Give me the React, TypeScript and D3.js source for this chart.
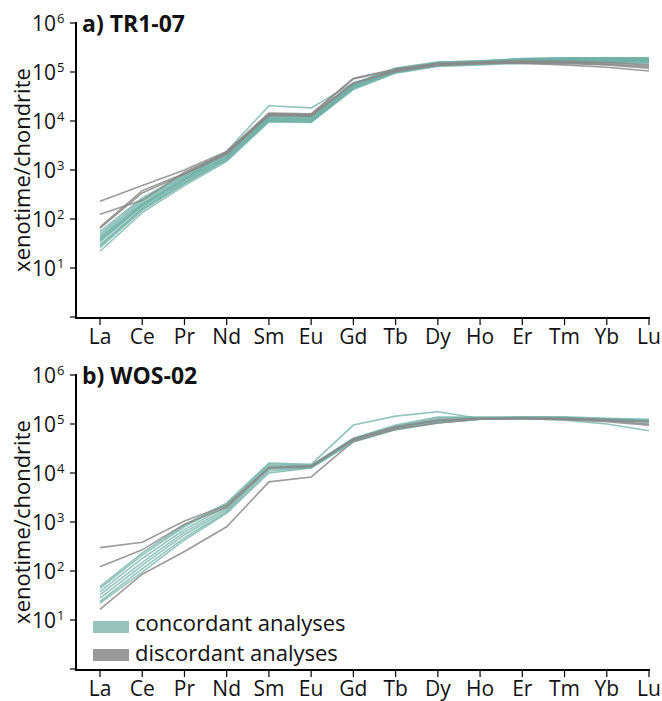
import React from 'react';
import * as d3 from 'd3';

const elements = ['La', 'Ce', 'Pr', 'Nd', 'Sm', 'Eu', 'Gd', 'Tb', 'Dy', 'Ho', 'Er', 'Tm', 'Yb', 'Lu'];
const yTickValues = [1, 10, 100, 1000, 10000, 100000, 1000000];
const yTickExponents = ['', '1', '2', '3', '4', '5', '6'];
const legendLabels = ['concordant analyses', 'discordant analyses'];

// a) TR1-07
const tr107Concordant = [
  [22, 135, 480, 1500, 9600, 9300, 44000, 95000, 130000, 140000, 150000, 155000, 160000, 165000],
  [26, 150, 520, 1600, 10000, 9800, 46000, 98000, 135000, 145000, 160000, 165000, 168000, 170000],
  [30, 165, 560, 1700, 10500, 10200, 48000, 100000, 140000, 150000, 165000, 170000, 172000, 175000],
  [34, 180, 600, 1800, 11000, 10800, 50000, 105000, 145000, 155000, 170000, 175000, 178000, 180000],
  [38, 195, 640, 1900, 11500, 11200, 52000, 108000, 148000, 160000, 175000, 180000, 182000, 185000],
  [42, 210, 680, 2000, 12000, 11800, 54000, 112000, 150000, 163000, 180000, 185000, 188000, 190000],
  [46, 230, 720, 2100, 12500, 12000, 55000, 115000, 155000, 165000, 183000, 190000, 192000, 195000],
  [50, 250, 760, 2200, 13000, 12500, 57000, 118000, 158000, 168000, 185000, 192000, 190000, 185000],
  [55, 270, 800, 2300, 13500, 13000, 58000, 120000, 160000, 170000, 188000, 195000, 195000, 190000],
  [40, 200, 650, 2400, 20500, 18500, 60000, 110000, 150000, 160000, 170000, 175000, 170000, 160000],
  [28, 160, 540, 1650, 10200, 9600, 47000, 100000, 138000, 148000, 158000, 160000, 155000, 150000],
  [36, 190, 620, 1850, 11200, 10500, 51000, 104000, 142000, 152000, 162000, 165000, 162000, 158000],
];
const tr107Discordant = [
  [230, 480, 1000, 2400, 14500, 14000, 75000, 115000, 150000, 160000, 170000, 165000, 155000, 140000],
  [125, 240, 900, 2300, 14000, 13500, 72000, 110000, 145000, 155000, 150000, 140000, 125000, 105000],
  [68, 380, 850, 2200, 13500, 13000, 60000, 105000, 140000, 150000, 160000, 155000, 145000, 130000],
  [65, 340, 820, 2100, 13000, 12500, 58000, 102000, 138000, 148000, 155000, 150000, 140000, 120000],
];

// b) WOS-02
const wos02Concordant = [
  [48, 234, 870, 2450, 16000, 15000, 95000, 145000, 178000, 130000, 130000, 120000, 100000, 73000],
  [44, 210, 800, 2300, 15000, 14500, 51000, 95000, 138000, 138000, 140000, 140000, 130000, 125000],
  [38, 180, 700, 2100, 14000, 14000, 50000, 90000, 130000, 135000, 138000, 135000, 128000, 120000],
  [33, 150, 620, 1900, 13000, 13500, 48000, 85000, 120000, 132000, 135000, 132000, 125000, 118000],
  [28, 130, 550, 1750, 12000, 13000, 47000, 82000, 112000, 128000, 132000, 130000, 122000, 115000],
  [24, 110, 480, 1600, 11000, 12800, 45000, 78000, 108000, 126000, 130000, 128000, 120000, 112000],
  [22, 95, 430, 1520, 10000, 12600, 43000, 76000, 105000, 126000, 128000, 125000, 118000, 110000],
];
const wos02Discordant = [
  [300, 385, 1050, 2200, 13000, 14000, 50000, 88000, 120000, 130000, 132000, 130000, 122000, 112000],
  [122, 270, 900, 2000, 12500, 13500, 48000, 85000, 118000, 128000, 130000, 128000, 118000, 100000],
  [16.5, 86, 250, 800, 6600, 8300, 44000, 78000, 105000, 125000, 128000, 122000, 112000, 95000],
];

const FONT = '"Open Sans", "Noto Sans", sans-serif';
const TEAL = '#6fb0a5';
const GREY = '#8a8a8a';

const x = d3.scalePoint<string>().domain(elements).range([100, 649]);
const axisLeft = 76;
const axisRight = 650;

interface PanelProps {
  title: string;
  top: number;
  bottom: number;
  concordant: number[][];
  discordant: number[][];
  legend?: boolean;
}

const Panel: React.FC<PanelProps> = ({ title, top, bottom, concordant, discordant, legend }) => {
  const y = d3.scaleLog().domain([1, 1e6]).range([bottom, top]);
  const line = d3
    .line<number>()
    .x((_, i) => x(elements[i]) as number)
    .y((d) => y(d));

  return (
    <g>
      {concordant.map((s, i) => (
        <path key={'c' + i} d={line(s) || ''} fill="none" stroke={TEAL} strokeWidth={1.6} strokeOpacity={0.75} />
      ))}
      {discordant.map((s, i) => (
        <path key={'d' + i} d={line(s) || ''} fill="none" stroke={GREY} strokeWidth={1.6} strokeOpacity={0.85} />
      ))}

      {/* axes */}
      <line x1={axisLeft} x2={axisLeft} y1={top - 1} y2={bottom + 1} stroke="#000" strokeWidth={2} />
      <line x1={axisLeft - 1} x2={axisRight} y1={bottom + 1} y2={bottom + 1} stroke="#000" strokeWidth={2} />
      {yTickValues.map((v, i) => (
        <g key={'yt' + i}>
          <line x1={axisLeft - 6} x2={axisLeft} y1={y(v)} y2={y(v)} stroke="#000" strokeWidth={1.2} />
          {yTickExponents[i] && (
            <text x={56} y={y(v) + 8} textAnchor="end" fontFamily={FONT} fontSize={21} fill="#111">
              10
            </text>
          )}
          {yTickExponents[i] && (
            <text x={57} y={y(v)} fontFamily={FONT} fontSize={13} fill="#111">
              {yTickExponents[i]}
            </text>
          )}
        </g>
      ))}
      {elements.map((el) => (
        <g key={el}>
          <line x1={x(el)} x2={x(el)} y1={bottom + 1} y2={bottom + 8} stroke="#000" strokeWidth={1.2} />
          <text x={x(el)} y={bottom + 27} textAnchor="middle" fontFamily={FONT} fontSize={21} fill="#111">
            {el}
          </text>
        </g>
      ))}
      <text
        transform={`translate(30,${(top + bottom) / 2}) rotate(-90)`}
        textAnchor="middle"
        fontFamily={FONT}
        fontSize={22}
        fill="#111"
      >
        xenotime/chondrite
      </text>
      <text x={82} y={top + 9} fontFamily={FONT} fontSize={23} fontWeight="bold" fill="#111">
        {title}
      </text>

      {legend && (
        <g>
          <rect x={93} y={bottom - 48} width={36} height={12} fill="#97c3bc" />
          <rect x={93} y={bottom - 20} width={36} height={12} fill="#999999" />
          <text x={135} y={bottom - 38} fontFamily={FONT} fontSize={22} fill="#111">
            {legendLabels[0]}
          </text>
          <text x={135} y={bottom - 8} fontFamily={FONT} fontSize={22} fill="#111">
            {legendLabels[1]}
          </text>
        </g>
      )}
    </g>
  );
};

export default function App() {
  return (
    <div style={{ position: 'absolute', left: 0, top: 0 }}>
      <svg width={662} height={701} style={{ display: 'block', background: '#fff' }}>
        <Panel title="a) TR1-07" top={23} bottom={317} concordant={tr107Concordant} discordant={tr107Discordant} />
        <Panel
          title="b) WOS-02"
          top={375}
          bottom={669}
          concordant={wos02Concordant}
          discordant={wos02Discordant}
          legend
        />
      </svg>
    </div>
  );
}
